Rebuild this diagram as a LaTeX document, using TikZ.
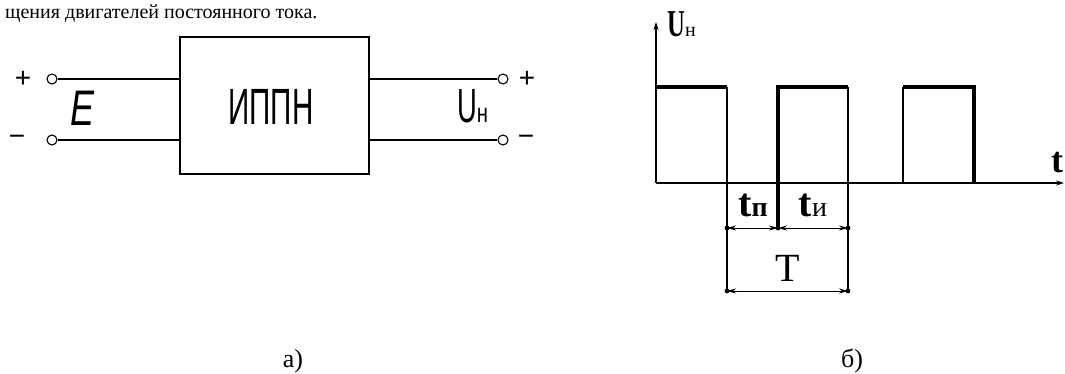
\documentclass[tikz,border=0pt]{standalone}
\usepackage{fontspec}
\setmainfont{Liberation Serif}
\newfontfamily\gostfont{Liberation Sans}
\usetikzlibrary{arrows.meta,positioning}

\begin{document}
\begin{tikzpicture}[x=1pt, y=-1pt,
    wire/.style={line width=1.2pt},
    thickline/.style={line width=3.4pt},
    term/.style={circle, draw, line width=1.1pt, fill=white, inner sep=0pt, minimum size=10pt},
    blk/.style={rectangle, draw, line width=1.3pt, minimum width=189pt, minimum height=137pt, inner sep=0pt},
    dimline/.style={line width=1pt, {Stealth[length=9pt,width=5pt]}-{Stealth[length=9pt,width=5pt]}},
    sign/.style={font=\gostfont\fontsize{28}{28}\selectfont, inner sep=0pt},
    lbl/.style={inner sep=0pt, anchor=base}
  ]
    \useasboundingbox (0,0) rectangle (1065,374);

    % heading line
    \node[inner sep=0pt, anchor=base west, font=\fontsize{20}{20}\selectfont] (head) at (5,19)
      {щения двигателей постоянного тока.};

    % a) converter block
    \node[blk] (ippn) at (274.5,105.5) {};
    \node[lbl, anchor=base west, font=\gostfont\fontsize{51}{51}\selectfont] (ippnlbl) at (228,125)
      {\scalebox{0.58}[1]{ИППН}};

    \node[term] (inp)  at (52,79)  {};
    \node[term] (inm)  at (52,140) {};
    \node[term] (outp) at (503,79) {};
    \node[term] (outm) at (503,140) {};

    \draw[wire] (inp) -- (inp -| ippn.west);
    \draw[wire] (inm) -- (inm -| ippn.west);
    \draw[wire] (outp -| ippn.east) -- (outp);
    \draw[wire] (outm -| ippn.east) -- (outm);

    \node[sign, left=15pt of inp]  (inplus)  {+};
    \node[sign, left=21pt of inm]  (inminus) {−};
    \node[sign, right=10pt of outp] (outplus)  {+};
    \node[sign, right=9pt of outm] (outminus) {−};

    \node[lbl, anchor=base west, font=\gostfont\itshape\fontsize{50}{50}\selectfont] (e) at (70,126)
      {\scalebox{0.72}[1]{E}};
    \node[lbl, anchor=base west, font=\gostfont\fontsize{48}{48}\selectfont] (un) at (457,123)
      {\scalebox{0.57}[1]{U}{\fontsize{27}{27}\selectfont\scalebox{0.75}[1]{н}}};

    % b) pulse diagram
    \coordinate (o)    at (656,183);
    \coordinate (ytop) at (656,22);
    \coordinate (tend) at (1064,183);
    \draw[wire, -{Stealth[length=8pt,width=5pt]}] (o) -- (ytop);
    \draw[wire, -{Stealth[length=8pt,width=5pt]}] (o) -- (tend);

    \coordinate (p1a) at (656,87);
    \coordinate (p1b) at (727,87);
    \coordinate (p2a) at (778,87);
    \coordinate (p2b) at (848,87);
    \coordinate (p3a) at (903,87);
    \coordinate (p3b) at (974,87);

    \coordinate (d1) at (727,228);
    \coordinate (d2) at (778,228);
    \coordinate (d3) at (848,228);
    \coordinate (f1) at (727,291);
    \coordinate (f3) at (848,291);

    \draw[thickline] (p1a) -- (p1b);
    \draw[wire] (p1b) -- (f1);
    \draw[thickline] (d2) -- (p2a) -- (p2b);
    \draw[wire] (p2b) -- (f3);
    \draw[wire] (p3a |- o) -- (p3a);
    \draw[thickline] (p3a) -- (p3b) -- (p3b |- o);

    \draw[dimline] (d1) -- (d2);
    \draw[dimline] (d2) -- (d3);
    \draw[dimline] (f1) -- (f3);
    \foreach \pt in {d1,d2,d3,f1,f3}
      \fill (\pt) circle (2.4pt);

    \node[lbl, anchor=base west, font=\fontsize{38}{38}\selectfont\bfseries] (uaxis) at (667,37)
      {\scalebox{0.65}[1]{U}{\mdseries\fontsize{20}{20}\selectfont н}};
    \node[lbl, anchor=base west, font=\fontsize{36}{36}\selectfont\bfseries] (taxis) at (1051,173) {t};
    \node[lbl, font=\fontsize{40}{40}\selectfont] (tp) at (753,217)
      {\textbf{t}{\fontsize{28}{28}\selectfont\textbf{п}}};
    \node[lbl, font=\fontsize{40}{40}\selectfont] (ti) at (813,217)
      {\textbf{t}{\fontsize{28}{28}\selectfont и}};
    \node[lbl, font=\fontsize{40}{40}\selectfont] (tper) at (788,281) {T};

    % captions
    \node[lbl, font=\fontsize{26}{26}\selectfont] (capa) at (293,367) {а)};
    \node[lbl, font=\fontsize{26}{26}\selectfont] (capb) at (852,367) {б)};
  \end{tikzpicture}
\end{document}
